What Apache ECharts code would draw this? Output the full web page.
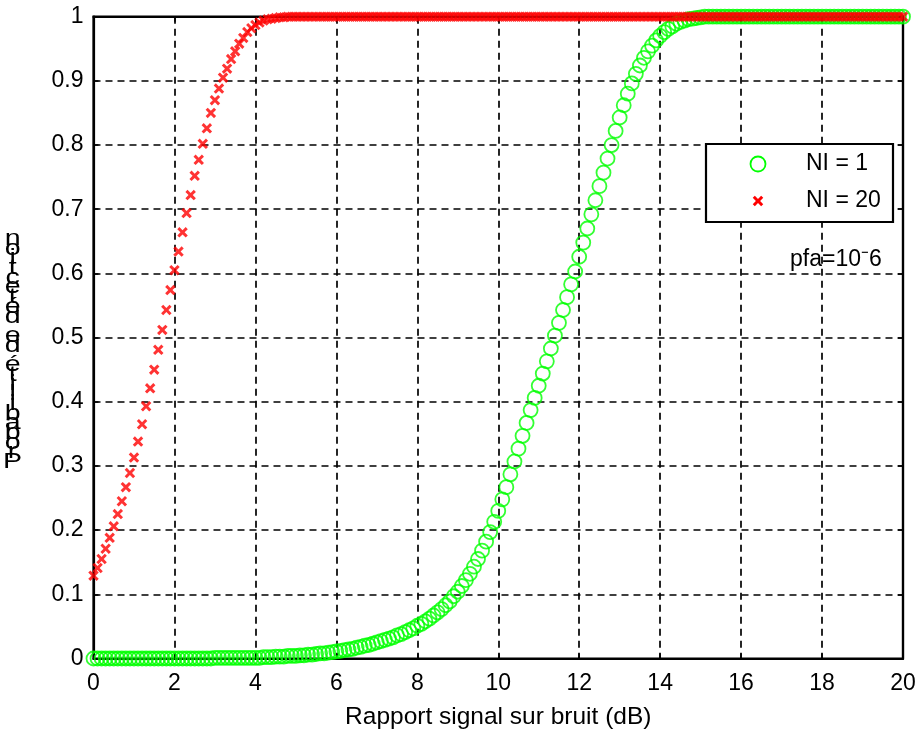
<!DOCTYPE html>
<html>
<head>
<meta charset="utf-8">
<script src="https://cdn.jsdelivr.net/npm/echarts/dist/echarts.min.js"></script>
<style>
html,body{margin:0;padding:0;background:#fff;}
#c{width:921px;height:736px;}
</style>
</head>
<body>
<div id="c"></div>
<script>
// ---- data ----
const snrStart = 0;      // dB
const snrStep = 0.1;     // dB
const xTickValues = [0, 2, 4, 6, 8, 10, 12, 14, 16, 18, 20];
const yTickValues = [0, 0.1, 0.2, 0.3, 0.4, 0.5, 0.6, 0.7, 0.8, 0.9, 1];
const seriesNames = ['NI = 1', 'NI = 20'];
const xAxisTitle = 'Rapport signal sur bruit (dB)';
const yAxisTitle = 'Probabilité de détection';
const annotation = 'pfa=10⁻6';

// Pd for NI = 1 (green circles), one value per 0.1 dB from 0 to 20 dB
const pdNI1 = [
  0, 0, 0, 0, 0, 0, 0, 0, 0, 0,
  0, 0, 0, 0, 0, 0, 0, 0, 0, 0,
  0, 0, 0, 0, 0, 0, 0, 0, 0, 0,
  0.001, 0.001, 0.001, 0.001, 0.001, 0.001, 0.001, 0.001, 0.001, 0.001,
  0.001, 0.001, 0.002, 0.002, 0.002, 0.003, 0.003, 0.003, 0.004, 0.004,
  0.004, 0.005, 0.005, 0.006, 0.006, 0.007, 0.008, 0.008, 0.009, 0.010,
  0.011, 0.012, 0.013, 0.014, 0.015, 0.017, 0.018, 0.020, 0.021, 0.023,
  0.025, 0.027, 0.029, 0.031, 0.033, 0.036, 0.038, 0.041, 0.044, 0.047,
  0.051, 0.054, 0.058, 0.062, 0.067, 0.072, 0.077, 0.083, 0.089, 0.097,
  0.104, 0.113, 0.122, 0.132, 0.143, 0.155, 0.168, 0.182, 0.197, 0.213,
  0.230, 0.248, 0.267, 0.287, 0.307, 0.327, 0.347, 0.367, 0.387, 0.406,
  0.425, 0.444, 0.463, 0.483, 0.503, 0.523, 0.543, 0.563, 0.583, 0.603,
  0.626, 0.648, 0.670, 0.692, 0.714, 0.736, 0.757, 0.779, 0.800, 0.822,
  0.843, 0.862, 0.880, 0.896, 0.911, 0.924, 0.936, 0.946, 0.955, 0.963,
  0.970, 0.976, 0.981, 0.985, 0.989, 0.992, 0.994, 0.996, 0.997, 0.998,
  0.999, 1, 1, 1, 1, 1, 1, 1, 1, 1,
  1, 1, 1, 1, 1, 1, 1, 1, 1, 1,
  1, 1, 1, 1, 1, 1, 1, 1, 1, 1,
  1, 1, 1, 1, 1, 1, 1, 1, 1, 1,
  1, 1, 1, 1, 1, 1, 1, 1, 1, 1,
  1
];

// Pd for NI = 20 (red crosses), one value per 0.1 dB from 0 to 20 dB
const pdNI20 = [
  0.129, 0.141, 0.155, 0.171, 0.188, 0.206, 0.225, 0.245, 0.267, 0.289,
  0.313, 0.338, 0.365, 0.393, 0.421, 0.450, 0.481, 0.512, 0.543, 0.574,
  0.605, 0.634, 0.664, 0.694, 0.722, 0.752, 0.777, 0.802, 0.826, 0.850,
  0.870, 0.888, 0.905, 0.919, 0.934, 0.946, 0.958, 0.967, 0.976, 0.982,
  0.987, 0.991, 0.994, 0.996, 0.997, 0.998, 0.999, 0.999, 1, 1,
  1, 1, 1, 1, 1, 1, 1, 1, 1, 1,
  1, 1, 1, 1, 1, 1, 1, 1, 1, 1,
  1, 1, 1, 1, 1, 1, 1, 1, 1, 1,
  1, 1, 1, 1, 1, 1, 1, 1, 1, 1,
  1, 1, 1, 1, 1, 1, 1, 1, 1, 1,
  1, 1, 1, 1, 1, 1, 1, 1, 1, 1,
  1, 1, 1, 1, 1, 1, 1, 1, 1, 1,
  1, 1, 1, 1, 1, 1, 1, 1, 1, 1,
  1, 1, 1, 1, 1, 1, 1, 1, 1, 1,
  1, 1, 1, 1, 1, 1, 1, 1, 1, 1,
  1, 1, 1, 1, 1, 1, 1, 1, 1, 1,
  1, 1, 1, 1, 1, 1, 1, 1, 1, 1,
  1, 1, 1, 1, 1, 1, 1, 1, 1, 1,
  1, 1, 1, 1, 1, 1, 1, 1, 1, 1,
  1, 1, 1, 1, 1, 1, 1, 1, 1, 1,
  1
];

// ---- chart ----
const FONT = '"Liberation Sans", Arial, Helvetica, sans-serif';
const FS = 23;
const GREEN = '#00ff00';
const RED = '#ff0000';
const CROSS = 'path://M0,2L2,0L5,3L8,0L10,2L7,5L10,8L8,10L5,7L2,10L0,8L3,5Z';
const crossPts = [[0,2],[2,0],[5,3],[8,0],[10,2],[7,5],[10,8],[8,10],[5,7],[2,10],[0,8],[3,5]];
const CROSS_SIZE = 10.5;

const toPairs = vals => vals.map((v, i) => [Math.round((snrStart + i * snrStep) * 10) / 10, v]);

const chart = echarts.init(document.getElementById('c'), null, {renderer: 'canvas'});

const xLabelFmt = v => xTickValues.indexOf(v) >= 0 ? String(v) : '';
const yLabelFmt = v => {
  const r = Math.round(v * 10) / 10;
  return yTickValues.indexOf(r) >= 0 ? String(r) : '';
};

const gridLine = {show: true, lineStyle: {color: '#000', type: [7, 5], width: 1.7}};
const axLine = {show: true, onZero: false, lineStyle: {color: '#000', width: 2.2}};
const axTick = {show: true, inside: true, length: 5, lineStyle: {color: '#000', width: 1.5}};

const yLabelStacked = yAxisTitle.split('').reverse().join('\n');

// legend cross icon, centred at (758, 201)
const s = CROSS_SIZE / 10;
const legCross = crossPts.map(p => [758 - CROSS_SIZE / 2 + p[0] * s, 201 - CROSS_SIZE / 2 + p[1] * s]);

const option = {
  animation: false,
  backgroundColor: '#fff',
  grid: {left: 93.5, right: 18, top: 16.7, bottom: 77.5, show: true, borderColor: '#000', borderWidth: 2.2, backgroundColor: 'rgba(0,0,0,0)'},
  xAxis: [
    {
      type: 'value', min: 0, max: 20, interval: 2, position: 'bottom',
      axisLine: axLine, axisTick: axTick, splitLine: gridLine,
      axisLabel: {color: '#000', fontSize: FS, fontFamily: FONT, margin: 14, formatter: xLabelFmt},
      name: xAxisTitle, nameLocation: 'middle', nameGap: 46,
      nameTextStyle: {color: '#000', fontSize: 24.5, fontFamily: FONT}
    },
    {
      type: 'value', min: 0, max: 20, interval: 2, position: 'top',
      axisLine: axLine, axisTick: axTick, splitLine: {show: false}, axisLabel: {show: false}
    }
  ],
  yAxis: [
    {
      type: 'value', min: 0, max: 1, interval: 0.1, position: 'left',
      axisLine: axLine, axisTick: axTick, splitLine: gridLine,
      axisLabel: {color: '#000', fontSize: FS, fontFamily: FONT, margin: 10, formatter: yLabelFmt}
    },
    {
      type: 'value', min: 0, max: 1, interval: 0.1, position: 'right',
      axisLine: axLine, axisTick: axTick, splitLine: {show: false}, axisLabel: {show: false}
    }
  ],
  series: [
    {
      name: seriesNames[0], type: 'scatter', xAxisIndex: 0, yAxisIndex: 0,
      data: toPairs(pdNI1), symbol: 'circle', symbolSize: 14, clip: false,
      itemStyle: {color: 'rgba(0,0,0,0)', borderColor: GREEN, borderWidth: 1.8},
      z: 3
    },
    {
      name: seriesNames[1], type: 'scatter', xAxisIndex: 0, yAxisIndex: 0,
      data: toPairs(pdNI20), symbol: CROSS, symbolSize: CROSS_SIZE, clip: false,
      itemStyle: {color: RED, borderWidth: 0},
      z: 4
    }
  ],
  graphic: {
    elements: [
      {type: 'rect', x: 706, y: 144, shape: {x: 0, y: 0, width: 187, height: 78}, style: {fill: '#fff', stroke: '#000', lineWidth: 2.2}, z: 10},
      {type: 'circle', shape: {cx: 758, cy: 164, r: 7.5}, style: {fill: 'rgba(0,0,0,0)', stroke: GREEN, lineWidth: 1.8}, z: 11},
      {type: 'polygon', shape: {points: legCross}, style: {fill: RED}, z: 11},
      {type: 'text', x: 806, y: 164, style: {text: seriesNames[0], fill: '#000', font: FS + 'px ' + FONT, verticalAlign: 'middle'}, z: 11},
      {type: 'text', x: 806, y: 201, style: {text: seriesNames[1], fill: '#000', font: FS + 'px ' + FONT, verticalAlign: 'middle'}, z: 11},
      {type: 'text', x: 790, y: 260, style: {text: annotation, fill: '#000', font: FS + 'px ' + FONT, verticalAlign: 'middle'}, z: 11},
      {type: 'text', x: 18, y: 234, originX: 18, originY: 0, scaleX: 1.3, style: {text: yLabelStacked, fill: '#000', font: '22px ' + FONT, lineHeight: 9.7, align: 'center', verticalAlign: 'top'}, z: 11}
    ]
  }
};
chart.setOption(option);
</script>
</body>
</html>
